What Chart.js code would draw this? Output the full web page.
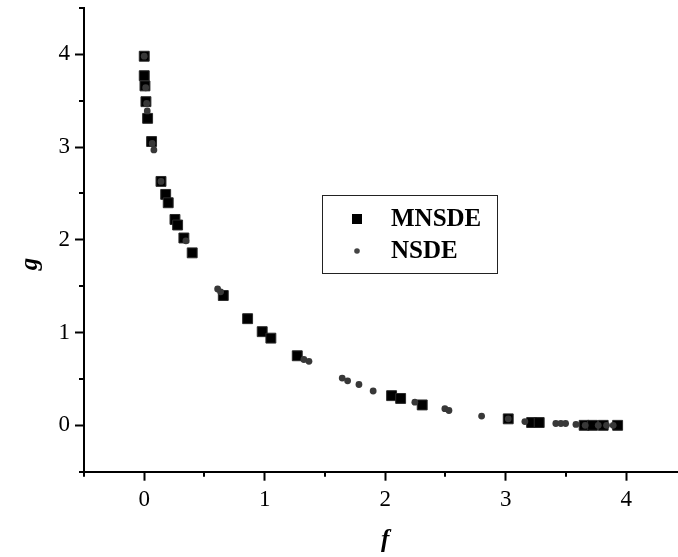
<!DOCTYPE html>
<html>
<head>
<meta charset="utf-8">
<script src="https://cdn.jsdelivr.net/npm/chart.js@4.4.0/dist/chart.umd.min.js"></script>
<style>
  html, body { margin: 0; padding: 0; background: #fff; overflow: hidden; }
  #wrap { width: 678px; height: 557px; overflow: hidden; }
  #c { display: block; }
</style>
</head>
<body>
<div id="wrap"><canvas id="c" width="686" height="557"></canvas></div>
<script>
// ---- data ----
const seriesNames = ['MNSDE', 'NSDE'];
const xTitle = 'f';
const yTitle = 'g';

const mnsdeF = [0.00, 0.00, 0.006, 0.014, 0.028, 0.061, 0.139, 0.178, 0.199, 0.255, 0.277, 0.329, 0.398,
                0.656, 0.858, 0.979, 1.051, 1.270, 2.053, 2.128, 2.307, 3.021, 3.215, 3.278,
                3.651, 3.721, 3.809, 3.929];
const mnsdeG = [3.98, 3.77, 3.66, 3.49, 3.31, 3.06, 2.63, 2.49, 2.40, 2.22, 2.16, 2.02, 1.86,
                1.40, 1.15, 1.01, 0.94, 0.75, 0.32, 0.29, 0.22, 0.07, 0.03, 0.03,
                0.00, 0.00, 0.00, 0.00];

const nsdeF = [0.00, 0.012, 0.020, 0.025, 0.066, 0.080, 0.139, 0.346, 0.609, 0.634, 1.325, 1.367,
               1.643, 1.688, 1.782, 1.900, 2.246, 2.495, 2.529, 2.800, 3.021, 3.159,
               3.416, 3.458, 3.497, 3.583, 3.660, 3.768, 3.837, 3.892];
const nsdeG = [3.98, 3.64, 3.47, 3.39, 3.04, 2.97, 2.63, 1.99, 1.47, 1.44, 0.71, 0.69,
               0.51, 0.48, 0.44, 0.37, 0.25, 0.18, 0.16, 0.10, 0.07, 0.04,
               0.02, 0.02, 0.02, 0.01, 0.00, 0.00, 0.00, 0.00];

const xMajorTicks = [0, 1, 2, 3, 4];
const xMinorTicks = [-0.5, 0.5, 1.5, 2.5, 3.5];
const yMajorTicks = [0, 1, 2, 3, 4];
const yMinorTicks = [-0.5, 0.5, 1.5, 2.5, 3.5, 4.5];

// ---- helpers ----
const toPoints = (xs, ys) => xs.map((v, i) => ({ x: v, y: ys[i] }));

const deco = {
  id: 'deco',
  afterDraw(chart) {
    const { ctx, chartArea, scales: { x, y } } = chart;
    ctx.save();
    ctx.strokeStyle = '#000';
    ctx.lineWidth = 2;
    xMinorTicks.forEach(v => {
      const px = Math.round(x.getPixelForValue(v));
      ctx.beginPath(); ctx.moveTo(px, chartArea.bottom); ctx.lineTo(px, chartArea.bottom + 5); ctx.stroke();
    });
    yMinorTicks.forEach(v => {
      const py = Math.round(y.getPixelForValue(v));
      ctx.beginPath(); ctx.moveTo(chartArea.left, py); ctx.lineTo(chartArea.left - 5, py); ctx.stroke();
    });

    // axis titles
    ctx.fillStyle = '#000';
    ctx.font = 'bold italic 25px "Liberation Serif"';
    ctx.textAlign = 'center';
    ctx.textBaseline = 'middle';
    ctx.fillText(xTitle, x.getPixelForValue(2), 541);
    ctx.save();
    ctx.translate(31, 264);
    ctx.rotate(-Math.PI / 2);
    ctx.fillText(yTitle, 0, 0);
    ctx.restore();

    // legend
    ctx.lineWidth = 1;
    ctx.strokeStyle = '#222';
    ctx.strokeRect(322.5, 195.5, 175, 78);
    ctx.fillStyle = '#000';
    ctx.fillRect(352, 214, 10, 10);
    ctx.fillStyle = '#444';
    ctx.beginPath(); ctx.arc(357, 251, 2.8, 0, Math.PI * 2); ctx.fill();
    ctx.fillStyle = '#000';
    ctx.font = 'bold 25px "Liberation Serif"';
    ctx.textAlign = 'left';
    ctx.fillText(seriesNames[0], 391, 220);
    ctx.fillText(seriesNames[1], 391, 252);
    ctx.restore();
  }
};

const tickFont = { family: '"Liberation Serif"', size: 23 };

new Chart(document.getElementById('c'), {
  type: 'scatter',
  data: {
    datasets: [
      {
        label: seriesNames[1],
        data: toPoints(nsdeF, nsdeG),
        pointStyle: 'circle',
        pointRadius: 3.4,
        backgroundColor: '#383838',
        borderColor: '#383838',
        borderWidth: 0,
        order: 0
      },
      {
        label: seriesNames[0],
        data: toPoints(mnsdeF, mnsdeG),
        pointStyle: 'rect',
        pointRadius: 7,
        backgroundColor: '#000',
        borderColor: '#2a2a2a',
        borderWidth: 1,
        order: 1
      }
    ]
  },
  options: {
    responsive: false,
    animation: false,
    events: [],
    layout: { padding: { top: 8, right: 0, left: 0, bottom: 0 } },
    plugins: { legend: { display: false }, tooltip: { enabled: false } },
    scales: {
      x: {
        type: 'linear',
        min: -0.5,
        max: 4.43,
        afterFit: s => { s.height = 85.3; s.paddingLeft = 0; s.paddingRight = 0; },
        afterBuildTicks: s => { s.ticks = xMajorTicks.map(v => ({ value: v })); },
        border: { display: true, color: '#000', width: 2 },
        grid: { display: true, drawOnChartArea: false, drawTicks: true, tickLength: 9, tickWidth: 2, tickColor: '#000' },
        ticks: { color: '#000', font: tickFont, padding: 5, maxRotation: 0, autoSkip: false,
                 callback: v => String(v) }
      },
      y: {
        type: 'linear',
        min: -0.5,
        max: 4.5,
        afterFit: s => { s.width = 84; s.paddingTop = 0; s.paddingBottom = 0; },
        afterBuildTicks: s => { s.ticks = yMajorTicks.map(v => ({ value: v })); },
        border: { display: true, color: '#000', width: 2 },
        grid: { display: true, drawOnChartArea: false, drawTicks: true, tickLength: 9, tickWidth: 2, tickColor: '#000' },
        ticks: { color: '#000', font: tickFont, padding: 5, autoSkip: false,
                 callback: v => String(v) }
      }
    }
  },
  plugins: [deco]
});
</script>
</body>
</html>
